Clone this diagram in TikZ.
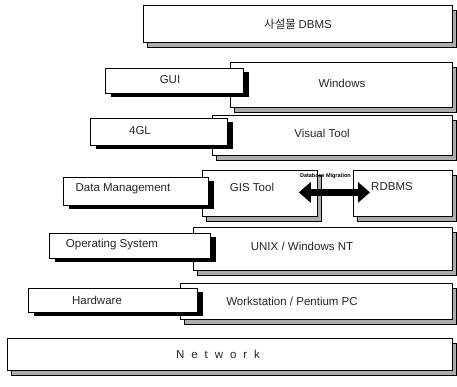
\documentclass[tikz,border=0pt]{standalone}
\usepackage{fontspec}
\setmainfont{Liberation Sans}
\newfontfamily\krfont{Noto Sans CJK KR}
\usetikzlibrary{shadows,arrows.meta,positioning}

\begin{document}
\begin{tikzpicture}[x=1pt,y=-1pt]
        % Layer style definitions
        \tikzset{
            tier/.style={draw=black, line width=0.8pt, fill=white, anchor=north west, inner sep=0pt,
                general shadow={fill=gray!65, draw=black, line width=0.6pt, shadow xshift=4pt, shadow yshift=-5pt}},
            tag/.style={draw=black, line width=0.8pt, fill=white, anchor=north west, inner sep=0pt,
                general shadow={fill=black, shadow xshift=6pt, shadow yshift=-4pt}},
            lbl/.style={font=\fontsize{11.5}{13}\selectfont, text=black!85, inner sep=0pt},
            migarrow/.style={line width=7pt, {Triangle[length=12pt,width=20pt]}-{Triangle[length=12pt,width=20pt]}}
        }
        \useasboundingbox (0,0) rectangle (457,387);

        % ==========================================
        % PLATFORM LAYERS (right column)
        % ==========================================
        \node[tier, minimum width=309pt, minimum height=37pt] (dbms) at (143,5) {};
        \node[tier, minimum width=222pt, minimum height=45pt] (windows) at (230,62) {};
        \node[tier, minimum width=240pt, minimum height=40pt] (visual) at (212,115) {};
        \node[tier, minimum width=115pt, minimum height=46pt] (gis) at (202,170) {};
        \node[tier, minimum width=99pt, minimum height=46pt] (rdbms) at (353,170) {};
        \node[tier, minimum width=259pt, minimum height=43pt] (unix) at (193,227) {};
        \node[tier, minimum width=272pt, minimum height=36pt] (station) at (180,283) {};
        \node[tier, minimum width=445pt, minimum height=32pt] (network) at (7,338) {};

        % ==========================================
        % CATEGORY TAGS (left column, over the layers)
        % ==========================================
        \node[tag, minimum width=138pt, minimum height=25pt] (gui) at (105,68) {};
        \node[tag, minimum width=137pt, minimum height=27pt] (fourgl) at (90,118) {};
        \node[tag, minimum width=145pt, minimum height=28pt] (datamgmt) at (63,177) {};
        \node[tag, minimum width=161pt, minimum height=25pt] (os) at (49,233) {};
        \node[tag, minimum width=169pt, minimum height=24pt] (hardware) at (28,288) {};

        % Migration between GIS tool and RDBMS
        \draw[migarrow, shorten <=-19pt, shorten >=-17pt] ([yshift=1pt]gis.east) -- ([yshift=1pt]rdbms.west)
            node[midway, above=10pt, xshift=-10pt, inner sep=0pt, font=\fontsize{5.5}{6}\selectfont\bfseries] (migr) {Database Migration};

        % ==========================================
        % TEXTS
        % ==========================================
        \node[lbl] (dbms-t) at (298,24) {\krfont 사설물 \rmfamily DBMS};
        \node[lbl] (windows-t) at (342,83) {Windows};
        \node[lbl] (visual-t) at (322,133) {Visual Tool};
        \node[lbl] (gis-t) at (252,187) {GIS Tool};
        \node[lbl] (rdbms-t) at (392,187) {RDBMS};
        \node[lbl] (unix-t) at (302,246) {UNIX / Windows NT};
        \node[lbl] (station-t) at (292,301) {Workstation / Pentium PC};
        \node[lbl] (network-t) at (218,354) {\addfontfeatures{LetterSpace=60}Network};

        \node[lbl] (gui-t) at (170,80) {GUI};
        \node[lbl] (fourgl-t) at (140,131) {4GL};
        \node[lbl] (datamgmt-t) at (123,189) {Data Management};
        \node[lbl] (os-t) at (112,245) {Operating System};
        \node[lbl] (hardware-t) at (97,300) {Hardware};

    \end{tikzpicture}
\end{document}
